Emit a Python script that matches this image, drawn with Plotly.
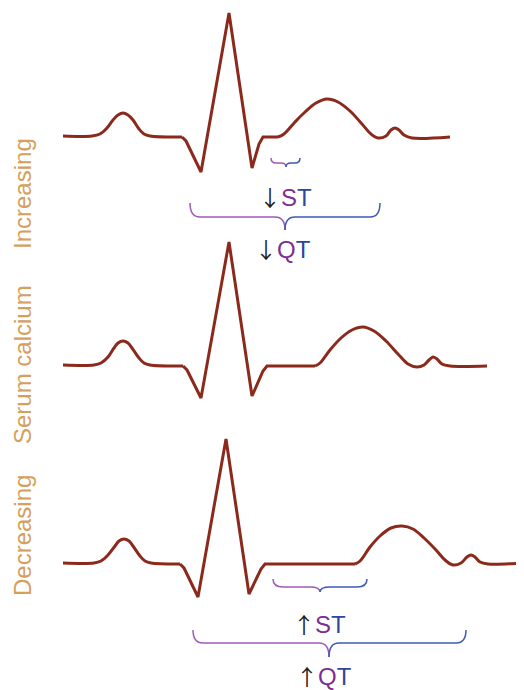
import plotly.graph_objects as go

# ECG key points (page pixel coordinates), three traces: before QRS, QRS, after QRS
# top: increasing calcium
top_pre_x = [63, 92, 100, 107, 113, 118, 123, 128, 133, 139, 144, 150, 182]
top_pre_y = [136, 136, 134, 128, 120, 115, 113, 115, 120, 129, 134, 136, 137]
top_qrs_x = [182, 186, 201, 229, 252, 259, 263, 278]
top_qrs_y = [137, 141, 172, 13, 168, 144, 137, 137]
top_post_x = [278, 284, 295, 305, 316, 327, 338, 350, 362, 371, 378, 386, 391, 395, 399, 404, 412, 450]
top_post_y = [137, 134, 122, 112, 103, 99, 102, 111, 124, 134, 138, 136, 130, 128, 130, 135, 138, 137]

# middle: normal
mid_pre_x = [63, 94, 101, 108, 114, 118, 123, 128, 132, 139, 144, 150, 183]
mid_pre_y = [365, 365, 363, 357, 348, 343, 341, 343, 348, 358, 363, 365, 366]
mid_qrs_x = [183, 187, 201, 229, 252, 263, 267, 315]
mid_qrs_y = [366, 370, 398, 242, 396, 371, 366, 366]
mid_post_x = [315, 320, 330, 341, 352, 363, 374, 386, 398, 408, 417, 424, 429, 433, 437, 442, 450, 487]
mid_post_y = [366, 363, 350, 338, 330, 327, 331, 341, 354, 364, 367, 365, 360, 357, 359, 364, 366, 366]

# bottom: decreasing calcium
bot_pre_x = [63, 94, 101, 108, 115, 119, 124, 129, 133, 140, 145, 151, 180]
bot_pre_y = [563, 563, 561, 555, 546, 541, 539, 541, 546, 556, 561, 563, 564]
bot_qrs_x = [180, 184, 198, 226, 249, 261, 265, 355]
bot_qrs_y = [564, 568, 597, 439, 594, 569, 564, 564]
bot_post_x = [355, 360, 370, 380, 391, 402, 413, 424, 436, 445, 453, 461, 467, 471, 475, 480, 488, 523]
bot_post_y = [564, 561, 547, 536, 528, 526, 529, 538, 550, 560, 565, 563, 557, 555, 557, 562, 564, 563]

# braces: left end, right end, tip x, top y, bar y, tip y
brace_x0 = [271, 190, 273, 193]
brace_x1 = [300, 380, 367, 466]
brace_tip_x = [286, 285, 320, 329]
brace_top_y = [158, 203, 579, 630]
brace_bar_y = [163, 217, 587, 643]
brace_tip_y = [167, 230, 592, 657]

interval_arrows = ["↓", "↓", "↑", "↑"]
interval_names = [("S", "T"), ("Q", "T"), ("S", "T"), ("Q", "T")]
interval_x = [285, 283, 319, 324]
interval_y = [196, 248, 623, 675]

side_labels = ["Increasing", "Serum calcium", "Decreasing"]
side_y = [194, 365, 536]

ecg_color = "#8B2A1C"
purple = "#7E2E91"
blue = "#2C479C"
brace_purple = "#A05AB8"
brace_blue = "#3D5BB5"
tan = "#D4A05C"

# the page body adds an 8px margin, so the axes start 8px in
off = 8

fig = go.Figure()

for xs, ys, shape in [
    (top_pre_x, top_pre_y, "spline"), (top_qrs_x, top_qrs_y, "linear"), (top_post_x, top_post_y, "spline"),
    (mid_pre_x, mid_pre_y, "spline"), (mid_qrs_x, mid_qrs_y, "linear"), (mid_post_x, mid_post_y, "spline"),
    (bot_pre_x, bot_pre_y, "spline"), (bot_qrs_x, bot_qrs_y, "linear"), (bot_post_x, bot_post_y, "spline"),
]:
    fig.add_trace(go.Scatter(
        x=xs, y=ys, mode="lines",
        line=dict(color=ecg_color, width=3, shape=shape, smoothing=1 if shape == "spline" else 0),
        hoverinfo="skip", showlegend=False,
    ))

for x0, x1, xm, yt, yb, yp in zip(brace_x0, brace_x1, brace_tip_x, brace_top_y, brace_bar_y, brace_tip_y):
    r = min(10, (xm - x0) / 3)
    left = f"M {x0},{yt} Q {x0},{yb} {x0 + r},{yb} L {xm - r},{yb} Q {xm},{yb} {xm},{yp}"
    right = f"M {x1},{yt} Q {x1},{yb} {x1 - r},{yb} L {xm + r},{yb} Q {xm},{yb} {xm},{yp}"
    fig.add_shape(type="path", path=left, xref="x", yref="y", line=dict(color=brace_purple, width=1.5))
    fig.add_shape(type="path", path=right, xref="x", yref="y", line=dict(color=brace_blue, width=1.5))

for arrow, (a, b), x, y in zip(interval_arrows, interval_names, interval_x, interval_y):
    fig.add_annotation(
        x=x, y=y, xref="x", yref="y", showarrow=False,
        text=f"<span style='font-family:Noto Sans CJK JP;font-size:22px;color:#222222'>{arrow}</span>"
             f"<span style='color:{purple}'>{a}</span><span style='color:{blue}'>{b}</span>",
        font=dict(family="Liberation Sans, Arial", size=24),
    )

for label, y in zip(side_labels, side_y):
    fig.add_annotation(
        x=22, y=y, xref="x", yref="y", showarrow=False, textangle=-90,
        text=label, font=dict(family="Liberation Sans, Arial", size=24, color=tan),
    )

fig.update_layout(
    width=524, height=690,
    margin=dict(l=0, r=0, t=0, b=0),
    paper_bgcolor="white", plot_bgcolor="white",
    xaxis=dict(range=[off, 524 + off], visible=False, fixedrange=True),
    yaxis=dict(range=[690 + off, off], visible=False, fixedrange=True),
)

fig.write_html("out.html")
